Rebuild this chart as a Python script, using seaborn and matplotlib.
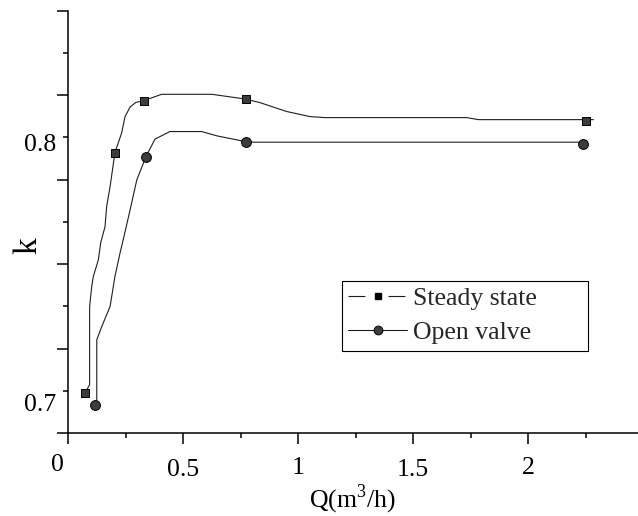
import matplotlib
matplotlib.use('Agg')
import matplotlib.pyplot as plt
import seaborn as sns
from matplotlib.lines import Line2D
from matplotlib.transforms import ScaledTranslation

# ---- data ----
steady_q = [0.074, 0.204, 0.330, 0.773, 2.252]
steady_k = [0.6991, 0.7940, 0.8145, 0.8151, 0.8064]
open_q = [0.119, 0.339, 0.773, 2.238]
open_k = [0.6945, 0.7924, 0.7983, 0.7974]

steady_curve_q = [0.074, 0.094, 0.094, 0.103, 0.110, 0.132, 0.142, 0.161, 0.168, 0.183,
                  0.204, 0.233, 0.248, 0.270, 0.295, 0.330, 0.407, 0.625, 0.773, 0.835, 0.951,
                  1.052, 1.117, 1.733, 1.784, 2.284]
steady_curve_k = [0.6991, 0.7024, 0.7333, 0.7411, 0.7451, 0.7517, 0.7584, 0.7648, 0.7727, 0.7806,
                  0.7940, 0.8017, 0.8082, 0.8120, 0.8138, 0.8145, 0.8170, 0.8170, 0.8151, 0.8137,
                  0.8102, 0.8082, 0.8078, 0.8078, 0.8070, 0.8070]
open_curve_q = [0.119, 0.125, 0.125, 0.147, 0.183, 0.204, 0.226, 0.240, 0.270, 0.299,
                0.339, 0.378, 0.443, 0.581, 0.647, 0.773, 0.806, 2.238]
open_curve_k = [0.6945, 0.6945, 0.7201, 0.7254, 0.7333, 0.7451, 0.7543, 0.7596, 0.7714, 0.7832,
                0.7924, 0.7993, 0.8023, 0.8023, 0.8006, 0.7983, 0.7981, 0.7981]

x_major = [0, 0.5, 1, 1.5, 2]
x_major_labels = ['0', '0.5', '1', '1.5', '2']
x_minor = [0.25, 0.75, 1.25, 1.75, 2.25]
y_major = [0.68333, 0.71667, 0.75, 0.78333, 0.81667, 0.85]
y_minor = [0.7, 0.73333, 0.76667, 0.8, 0.83333]
y_minor_labels = ['0.7', '', '', '0.8', '']
series_names = ['Steady state', 'Open valve']

# ---- style ----
sns.set_theme(style='ticks')
plt.rcParams['font.family'] = ['Liberation Serif', 'DejaVu Serif']
plt.rcParams['mathtext.fontset'] = 'custom'
plt.rcParams['mathtext.rm'] = 'Liberation Serif'
plt.rcParams['lines.scale_dashes'] = False

FS = 18.5
LINE_C = '#1e1e1e'
MARK_C = '#3c3c3c'

fig = plt.figure(figsize=(6.38, 5.16), dpi=100)
ax = fig.add_axes([0.1066, 0.1609, 0.8934, 0.8184])

sns.lineplot(x=steady_curve_q, y=steady_curve_k, sort=False, estimator=None,
             color=LINE_C, lw=0.8, ax=ax)
sns.lineplot(x=open_curve_q, y=open_curve_k, sort=False, estimator=None,
             color=LINE_C, lw=0.8, ax=ax)
sns.scatterplot(x=steady_q, y=steady_k, marker='s', s=40, color=MARK_C,
                edgecolor='black', linewidth=0.7, ax=ax, zorder=3)
sns.scatterplot(x=open_q, y=open_k, marker='o', s=50, color=MARK_C,
                edgecolor='black', linewidth=0.7, ax=ax, zorder=3)

ax.set_xlim(0, 2.478)
ax.set_ylim(0.68333, 0.85)

ax.set_xticks(x_major)
ax.set_xticklabels(x_major_labels)
ax.set_xticks(x_minor, minor=True)
ax.set_yticks(y_major)
ax.set_yticklabels([''] * len(y_major))
ax.set_yticks(y_minor, minor=True)
ax.set_yticklabels(y_minor_labels, minor=True)

for s in ['top', 'right']:
    ax.spines[s].set_visible(False)
for s in ['left', 'bottom']:
    ax.spines[s].set_linewidth(1.1)
    ax.spines[s].set_color('black')

ax.tick_params(which='major', direction='out', length=8, width=1.1, color='black',
               labelsize=FS, labelcolor='black')
ax.tick_params(which='minor', direction='out', length=3.5, width=1.1, color='black',
               labelsize=FS, labelcolor='black')
ax.tick_params(axis='x', which='major', pad=9)
ax.tick_params(axis='y', which='minor', pad=5)

# small per-label offsets seen in the reference
for tick in ax.xaxis.get_major_ticks():
    t = tick.label1.get_text()
    if t == '0':
        tick.label1.set_transform(tick.label1.get_transform() +
                                  ScaledTranslation(-0.11, 0.03, fig.dpi_scale_trans))
    elif t in ('0.5', '1.5'):
        tick.label1.set_transform(tick.label1.get_transform() +
                                  ScaledTranslation(0, -0.02, fig.dpi_scale_trans))
for tick, lab in zip(ax.yaxis.get_minor_ticks(), y_minor_labels):
    if lab == '0.8':
        tick.label1.set_transform(tick.label1.get_transform() +
                                  ScaledTranslation(0, -0.05, fig.dpi_scale_trans))
    elif lab == '0.7':
        tick.label1.set_transform(tick.label1.get_transform() +
                                  ScaledTranslation(0, -0.12, fig.dpi_scale_trans))

ax.set_xlabel('Q(m$^{3}$/h)', fontsize=FS, color='black')
ax.xaxis.set_label_coords(0.498, -0.118)
ax.set_ylabel('k', fontsize=24, color='black')
ax.yaxis.set_label_coords(-0.044, 0.443)

h1 = Line2D([], [], color=LINE_C, lw=0.8, dashes=(12.2, 16.6), marker='s',
            markersize=5, markerfacecolor='black', markeredgecolor='black')
h2 = Line2D([], [], color=LINE_C, lw=0.8, marker='o', markersize=6.3,
            markerfacecolor=MARK_C, markeredgecolor='black', markeredgewidth=0.7)
leg = ax.legend(handles=[h1, h2], labels=series_names, loc='upper left',
                bbox_to_anchor=(0.480, 0.209, 0.432, 0.151), mode='expand',
                borderaxespad=0, frameon=True, fancybox=False, shadow=False,
                handlelength=2.3, handletextpad=0.23, borderpad=0.25,
                labelspacing=0.43, fontsize=FS, numpoints=1)
fr = leg.get_frame()
fr.set_edgecolor('black')
fr.set_linewidth(0.8)
fr.set_facecolor('white')
fr.set_alpha(1)

fig.savefig('out.png', dpi=100)
